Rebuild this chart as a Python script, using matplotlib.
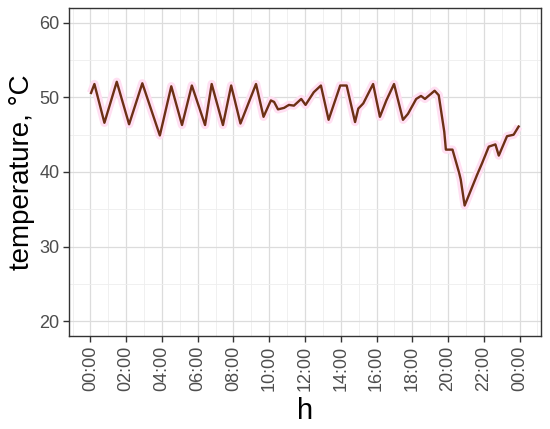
import matplotlib
matplotlib.use("Agg")
import matplotlib.pyplot as plt
from matplotlib.ticker import MultipleLocator, FixedLocator

plt.rcParams['font.family'] = ['Liberation Sans', 'DejaVu Sans']

hours = [0.03, 0.22, 0.78, 1.47, 2.16, 2.90, 3.88, 4.52, 5.12, 5.67, 6.41, 6.78,
         7.41, 7.87, 8.39, 9.26, 9.68, 10.09, 10.27, 10.49, 10.83, 11.10, 11.38,
         11.79, 12.03, 12.49, 12.89, 13.32, 13.97, 14.33, 14.80, 14.98, 15.26,
         15.81, 16.19, 16.55, 16.98, 17.48, 17.76, 18.22, 18.49, 18.71, 19.25,
         19.48, 19.79, 19.88, 20.25, 20.62, 20.71, 20.93, 21.64, 21.91, 22.28,
         22.65, 22.84, 23.30, 23.67, 23.95]
temperature = [50.6, 51.8, 46.6, 52.1, 46.4, 51.9, 44.9, 51.5, 46.3, 51.6, 46.3, 51.8,
               46.3, 51.6, 46.5, 51.8, 47.4, 49.6, 49.4, 48.4, 48.6, 49.0, 48.9,
               49.8, 49.0, 50.7, 51.6, 47.0, 51.6, 51.6, 46.7, 48.5, 49.2,
               51.8, 47.4, 49.6, 51.8, 47.0, 47.8, 49.8, 50.2, 49.8, 50.9,
               50.3, 45.4, 43.0, 43.0, 39.9, 39.0, 35.5, 39.7, 41.2, 43.4,
               43.7, 42.2, 44.8, 45.0, 46.1]

tick_hours = list(range(0, 25, 2))
tick_labels = ["00:00", "02:00", "04:00", "06:00", "08:00", "10:00", "12:00",
               "14:00", "16:00", "18:00", "20:00", "22:00", "00:00"]
y_ticks = [20, 30, 40, 50, 60]

fig = plt.figure(figsize=(5.5, 4.29), dpi=100)
ax = fig.add_axes([0.1255, 0.2168, 0.9836 - 0.1255, 0.9814 - 0.2168])

ax.plot(hours, temperature, color='#ffdff2', linewidth=6, solid_capstyle='butt', zorder=2)
ax.plot(hours, temperature, color='#6c3015', linewidth=1.7, zorder=3)

ax.set_xlim(-1.2, 25.2)
ax.set_ylim(18, 62)
ax.xaxis.set_major_locator(FixedLocator(tick_hours))
ax.set_xticklabels(tick_labels, rotation=90)
ax.xaxis.set_minor_locator(MultipleLocator(1))
ax.yaxis.set_major_locator(FixedLocator(y_ticks))
ax.yaxis.set_minor_locator(MultipleLocator(5))

ax.grid(which='major', color='#dcdcdc', linewidth=0.9)
ax.grid(which='minor', color='#eeeeee', linewidth=0.6)
ax.set_axisbelow(True)

for s in ax.spines.values():
    s.set_color('#333333')
    s.set_linewidth(1.0)

ax.tick_params(which='major', length=4, width=1, color='#333333',
               labelsize=13, labelcolor='#4d4d4d', pad=3)
ax.tick_params(which='minor', length=0)

ax.set_xlabel('h', fontsize=21, labelpad=4)
ax.set_ylabel('temperature, °C', fontsize=20, labelpad=3)

fig.savefig('out.png', dpi=100, facecolor='white')
